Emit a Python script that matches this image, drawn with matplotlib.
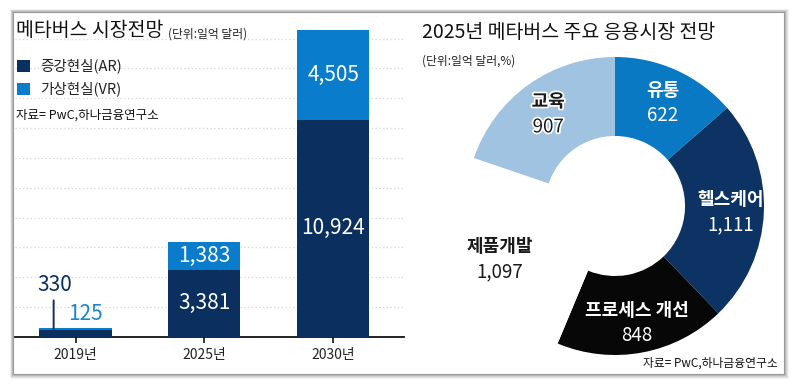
import numpy as np
import matplotlib
matplotlib.use('Agg')
import matplotlib.pyplot as plt
from matplotlib.patches import Rectangle
import matplotlib.patheffects as pe

plt.rcParams['font.family'] = ['Noto Sans CJK KR', 'DejaVu Sans']

# left panel data (unit: 100 million USD)
years = ['2019년', '2025년', '2030년']
ar = [330, 3381, 10924]
vr = [125, 1383, 4505]

# right panel data
segments = ['유통', '헬스케어', '프로세스 개선', '제품개발', '교육']
seg_values = [622, 1111, 848, 1097, 907]

navy = '#0b2f5f'
blue = '#0a7ccc'
seg_colors = ['#0a79c4', '#0c3364', '#070707', '#ffffff', '#9fc3e0']
seg_text = ['white', 'white', 'white', '#1a1a1a', '#1a1a1a']

W, H = 799, 385
fig = plt.figure(figsize=(W / 100, H / 100), dpi=100)
fig.patch.set_facecolor('white')


def fx(x):
    return x / W


def fy(y):
    return 1 - y / H


# card with soft shadow
for i, a in enumerate([0.05, 0.06, 0.08, 0.11]):
    d = 5 - i
    fig.patches.append(Rectangle((fx(13 - d * 0.6), fy(374 + d)), (771 + d * 1.6) / W, (362 + d * 1.6) / H,
                                 transform=fig.transFigure, facecolor='black', alpha=a,
                                 edgecolor='none', zorder=-10))
fig.patches.append(Rectangle((fx(13), fy(374)), 771 / W, 362 / H, transform=fig.transFigure,
                             facecolor='white', edgecolor='#9a9a9a', lw=0.8, zorder=-5))

# ---- stacked bars ----
ax = fig.add_axes([fx(15), fy(337), 389 / W, 307 / H])
ax.set_facecolor('none')
x = np.arange(len(years))
total = np.array(ar) + np.array(vr)
bw = 0.56
ax.bar(x, ar, bw, color=navy, zorder=3)
ax.bar(x, vr, bw, bottom=ar, color=blue, zorder=3)
ax.set_xlim(-0.47, 2.55)
ax.set_ylim(0, total.max())
ax.set_yticks(np.arange(1500, total.max(), 1500))
ax.yaxis.grid(True, color='#d6d6d6', linestyle=(0, (1, 2)), lw=0.9, zorder=0)
ax.tick_params(axis='y', left=False, labelleft=False)
ax.set_xticks(x)
ax.set_xticklabels(years, fontsize=10, color='#222222')
ax.tick_params(axis='x', length=4, width=1.2, color='#111111', pad=4)
for s in ['left', 'right', 'top']:
    ax.spines[s].set_visible(False)
ax.spines['bottom'].set_linewidth(1.3)
ax.spines['bottom'].set_color('#111111')

for i in range(1, len(years)):
    ax.text(x[i], ar[i] / 2, f'{ar[i]:,}', ha='center', va='center', color='white', fontsize=15)
    ax.text(x[i], ar[i] + vr[i] / 2, f'{vr[i]:,}', ha='center', va='center', color='white', fontsize=15)

# small 2019 values
ax.annotate('', xy=(x[0] - 0.17, ar[0] / 2), xytext=(0, 24), textcoords='offset points',
            arrowprops=dict(arrowstyle='-', color=navy, lw=1.4, shrinkA=0, shrinkB=0))
ax.annotate(f'{ar[0]:,}', xy=(x[0] - 0.17, ar[0] / 2), xytext=(1, 35), textcoords='offset points',
            ha='center', va='center', color=navy, fontsize=15)
ax.annotate(f'{vr[0]:,}', xy=(x[0], total[0]), xytext=(7, 10), textcoords='offset points',
            ha='center', va='center', color='#1a86cc', fontsize=15)

# titles and legend, left
fig.text(fx(16), fy(31), '메타버스 시장전망', fontsize=14, color='#111111', va='center')
fig.text(fx(168), fy(34), '(단위:일억 달러)', fontsize=8.5, color='#222222', va='center')
for yy, col, lab in [(66, navy, '증강현실(AR)'), (89, blue, '가상현실(VR)')]:
    fig.patches.append(Rectangle((fx(17), fy(yy + 6)), 13 / W, 12 / H, transform=fig.transFigure,
                                 facecolor=col, edgecolor='none'))
    fig.text(fx(40), fy(yy), lab, fontsize=10.5, color='#222222', va='center')
fig.text(fx(16), fy(115), '자료= PwC,하나금융연구소', fontsize=9, color='#111111', va='center')

# ---- donut ----
R = 149
ax2 = fig.add_axes([fx(615 - R), fy(206 + R), 2 * R / W, 2 * R / H])
wedges, _ = ax2.pie(seg_values, colors=seg_colors, startangle=90, counterclock=False,
                    radius=1, wedgeprops=dict(width=0.53, edgecolor='none'))
ax2.set_xlim(-1, 1)
ax2.set_ylim(-1, 1)
ax2.set_aspect('equal')
ax2.axis('off')

dists = [0.77, 0.78, 0.79, 0.85, 0.77]
for w, name, val, tc, d in zip(wedges, segments, seg_values, seg_text, dists):
    ang = np.deg2rad((w.theta1 + w.theta2) / 2)
    cx, cy = d * np.cos(ang), d * np.sin(ang)
    kw = {}
    if name == '교육':
        kw['path_effects'] = [pe.withStroke(linewidth=2.5, foreground='white')]
    ax2.text(cx, cy + 0.075, name, ha='center', va='center', color=tc, fontsize=13,
             fontweight='bold', **kw)
    ax2.text(cx, cy - 0.095, f'{val:,}', ha='center', va='center', color=tc, fontsize=13.5, **kw)

fig.text(fx(422), fy(33), '2025년 메타버스 주요 응용시장 전망', fontsize=14, color='#111111', va='center')
fig.text(fx(422), fy(61), '(단위:일억 달러,%)', fontsize=8.5, color='#222222', va='center')
fig.text(fx(778), fy(363), '자료= PwC,하나금융연구소', fontsize=8.5, color='#111111', va='center', ha='right')

fig.savefig('out.png', dpi=100)
